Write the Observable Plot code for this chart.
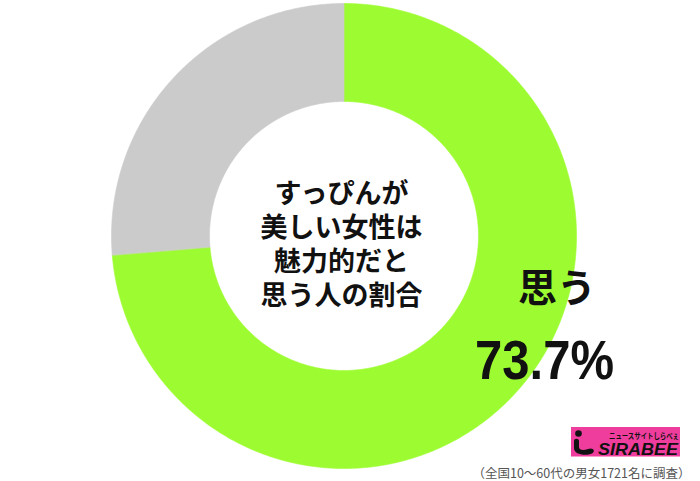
<!DOCTYPE html>
<html>
<head>
<meta charset="utf-8">
<script src="https://cdn.jsdelivr.net/npm/d3@7"></script>
<script src="https://cdn.jsdelivr.net/npm/@observablehq/plot@0.6"></script>
<style>
  html, body { margin: 0; padding: 0; background: #fff; }
  #chart { width: 700px; height: 481px; }
</style>
</head>
<body>
<div id="chart"></div>
<script>
// Survey answers: share of respondents (%)
const categories = ["思う", "思わない"];
const values = [73.7, 26.3];
const colors = ["#9dfc31", "#cccbcc"];

const title = "すっぴんが\n美しい女性は\n魅力的だと\n思う人の割合";
const caption = "（全国10〜60代の男女1721名に調査）";

const W = 700, H = 481;
const cx = 343.5, cy = 235.5, R = 232.5;   // donut centre and outer radius in pixels
const inner = 0.5785;                        // inner radius as a fraction of the outer one

// Slice angles (clockwise from 12 o'clock) from the values
const pie = d3.pie().sort(null).value(d => d.value)(
  categories.map((c, i) => ({category: c, value: values[i]}))
);

// Outline of each ring segment as a closed polygon in unit coordinates
const ring = [];
for (const s of pie) {
  const n = Math.max(2, Math.ceil((s.endAngle - s.startAngle) / (Math.PI / 360)));
  const pts = [];
  for (let k = 0; k <= n; k++) {
    const a = s.startAngle + (s.endAngle - s.startAngle) * k / n;
    pts.push([Math.sin(a), Math.cos(a)]);
  }
  for (let k = n; k >= 0; k--) {
    const a = s.startAngle + (s.endAngle - s.startAngle) * k / n;
    pts.push([inner * Math.sin(a), inner * Math.cos(a)]);
  }
  pts.forEach(([x, y], k) => ring.push({category: s.data.category, x, y, k}));
}

const xDomain = [-cx / R, (W - cx) / R];
const yDomain = [cy / R, -(H - cy) / R];
const px = v => (v - cx) / R;   // pixel column -> unit x
const py = v => (cy - v) / R;   // pixel row -> unit y
const jp = "'Noto Sans CJK JP', 'Noto Sans', sans-serif";

const chart = Plot.plot({
  width: W,
  height: H,
  margin: 0,
  style: {background: "#fff", overflow: "visible"},
  x: {domain: xDomain, range: [0, W], axis: null},
  y: {domain: yDomain, range: [0, H], axis: null},
  color: {domain: categories, range: colors},
  marks: [
    Plot.line(ring, {
      x: "x", y: "y", z: "category", fill: "category",
      stroke: "category", strokeWidth: 0.6,
      curve: "linear-closed"
    }),
    Plot.text([title], {
      x: px(341), y: py(243), text: d => d,
      fontSize: 27, fontWeight: 700, lineHeight: 1.26,
      fontFamily: jp, fill: "#111", textAnchor: "middle"
    }),
    Plot.text([categories[0]], {
      x: px(556.5), y: py(289), text: d => d,
      fontSize: 39, fontWeight: 700, fontFamily: jp, fill: "#111",
      textAnchor: "middle"
    }),
    Plot.text([values[0]], {
      x: px(544), y: py(361), text: d => d.toFixed(1) + "%",
      fontSize: 56, fontWeight: 700,
      fontFamily: "'Liberation Sans', Arial, sans-serif", fill: "#111",
      textAnchor: "middle", className: "share"
    }),
    Plot.text([caption], {
      x: px(690), y: py(473), text: d => d,
      fontSize: 12.5, fontFamily: jp, fill: "#555", textAnchor: "end"
    })
  ]
});

const svg = d3.select(chart);

// Slightly narrower glyphs for the big percentage figure
svg.selectAll(".share text").attr("textLength", 139).attr("lengthAdjust", "spacingAndGlyphs");

// Site badge in the lower right corner
const badge = svg.append("g").attr("text-anchor", "start");
badge.append("rect").attr("x", 571).attr("y", 427).attr("width", 109).attr("height", 29.5).attr("fill", "#ee3d9c");
badge.append("circle").attr("cx", 578.5).attr("cy", 433.5).attr("r", 3.3).attr("fill", "#111");
badge.append("path")
  .attr("d", "M574,441 C574,438 579,438 579,441 L579,447 C579,450 583,451 588,449 C593,447 596,451 592,453.5 C586,456 574,455 574,448 Z")
  .attr("fill", "#111");
badge.append("text").attr("x", 679).attr("y", 439).attr("text-anchor", "end")
  .attr("font-size", 7.5).attr("font-weight", 700).attr("font-family", jp).attr("fill", "#111")
  .attr("textLength", 70).attr("lengthAdjust", "spacingAndGlyphs")
  .text("ニュースサイトしらべぇ");
badge.append("text").attr("x", 598).attr("y", 454.5).attr("text-anchor", "start")
  .attr("font-size", 17).attr("font-weight", 700).attr("font-style", "italic")
  .attr("font-family", "'Liberation Sans', Arial, sans-serif").attr("fill", "#111")
  .attr("textLength", 80).attr("lengthAdjust", "spacingAndGlyphs")
  .text("SIRABEE");

document.getElementById("chart").appendChild(chart);
</script>
</body>
</html>
